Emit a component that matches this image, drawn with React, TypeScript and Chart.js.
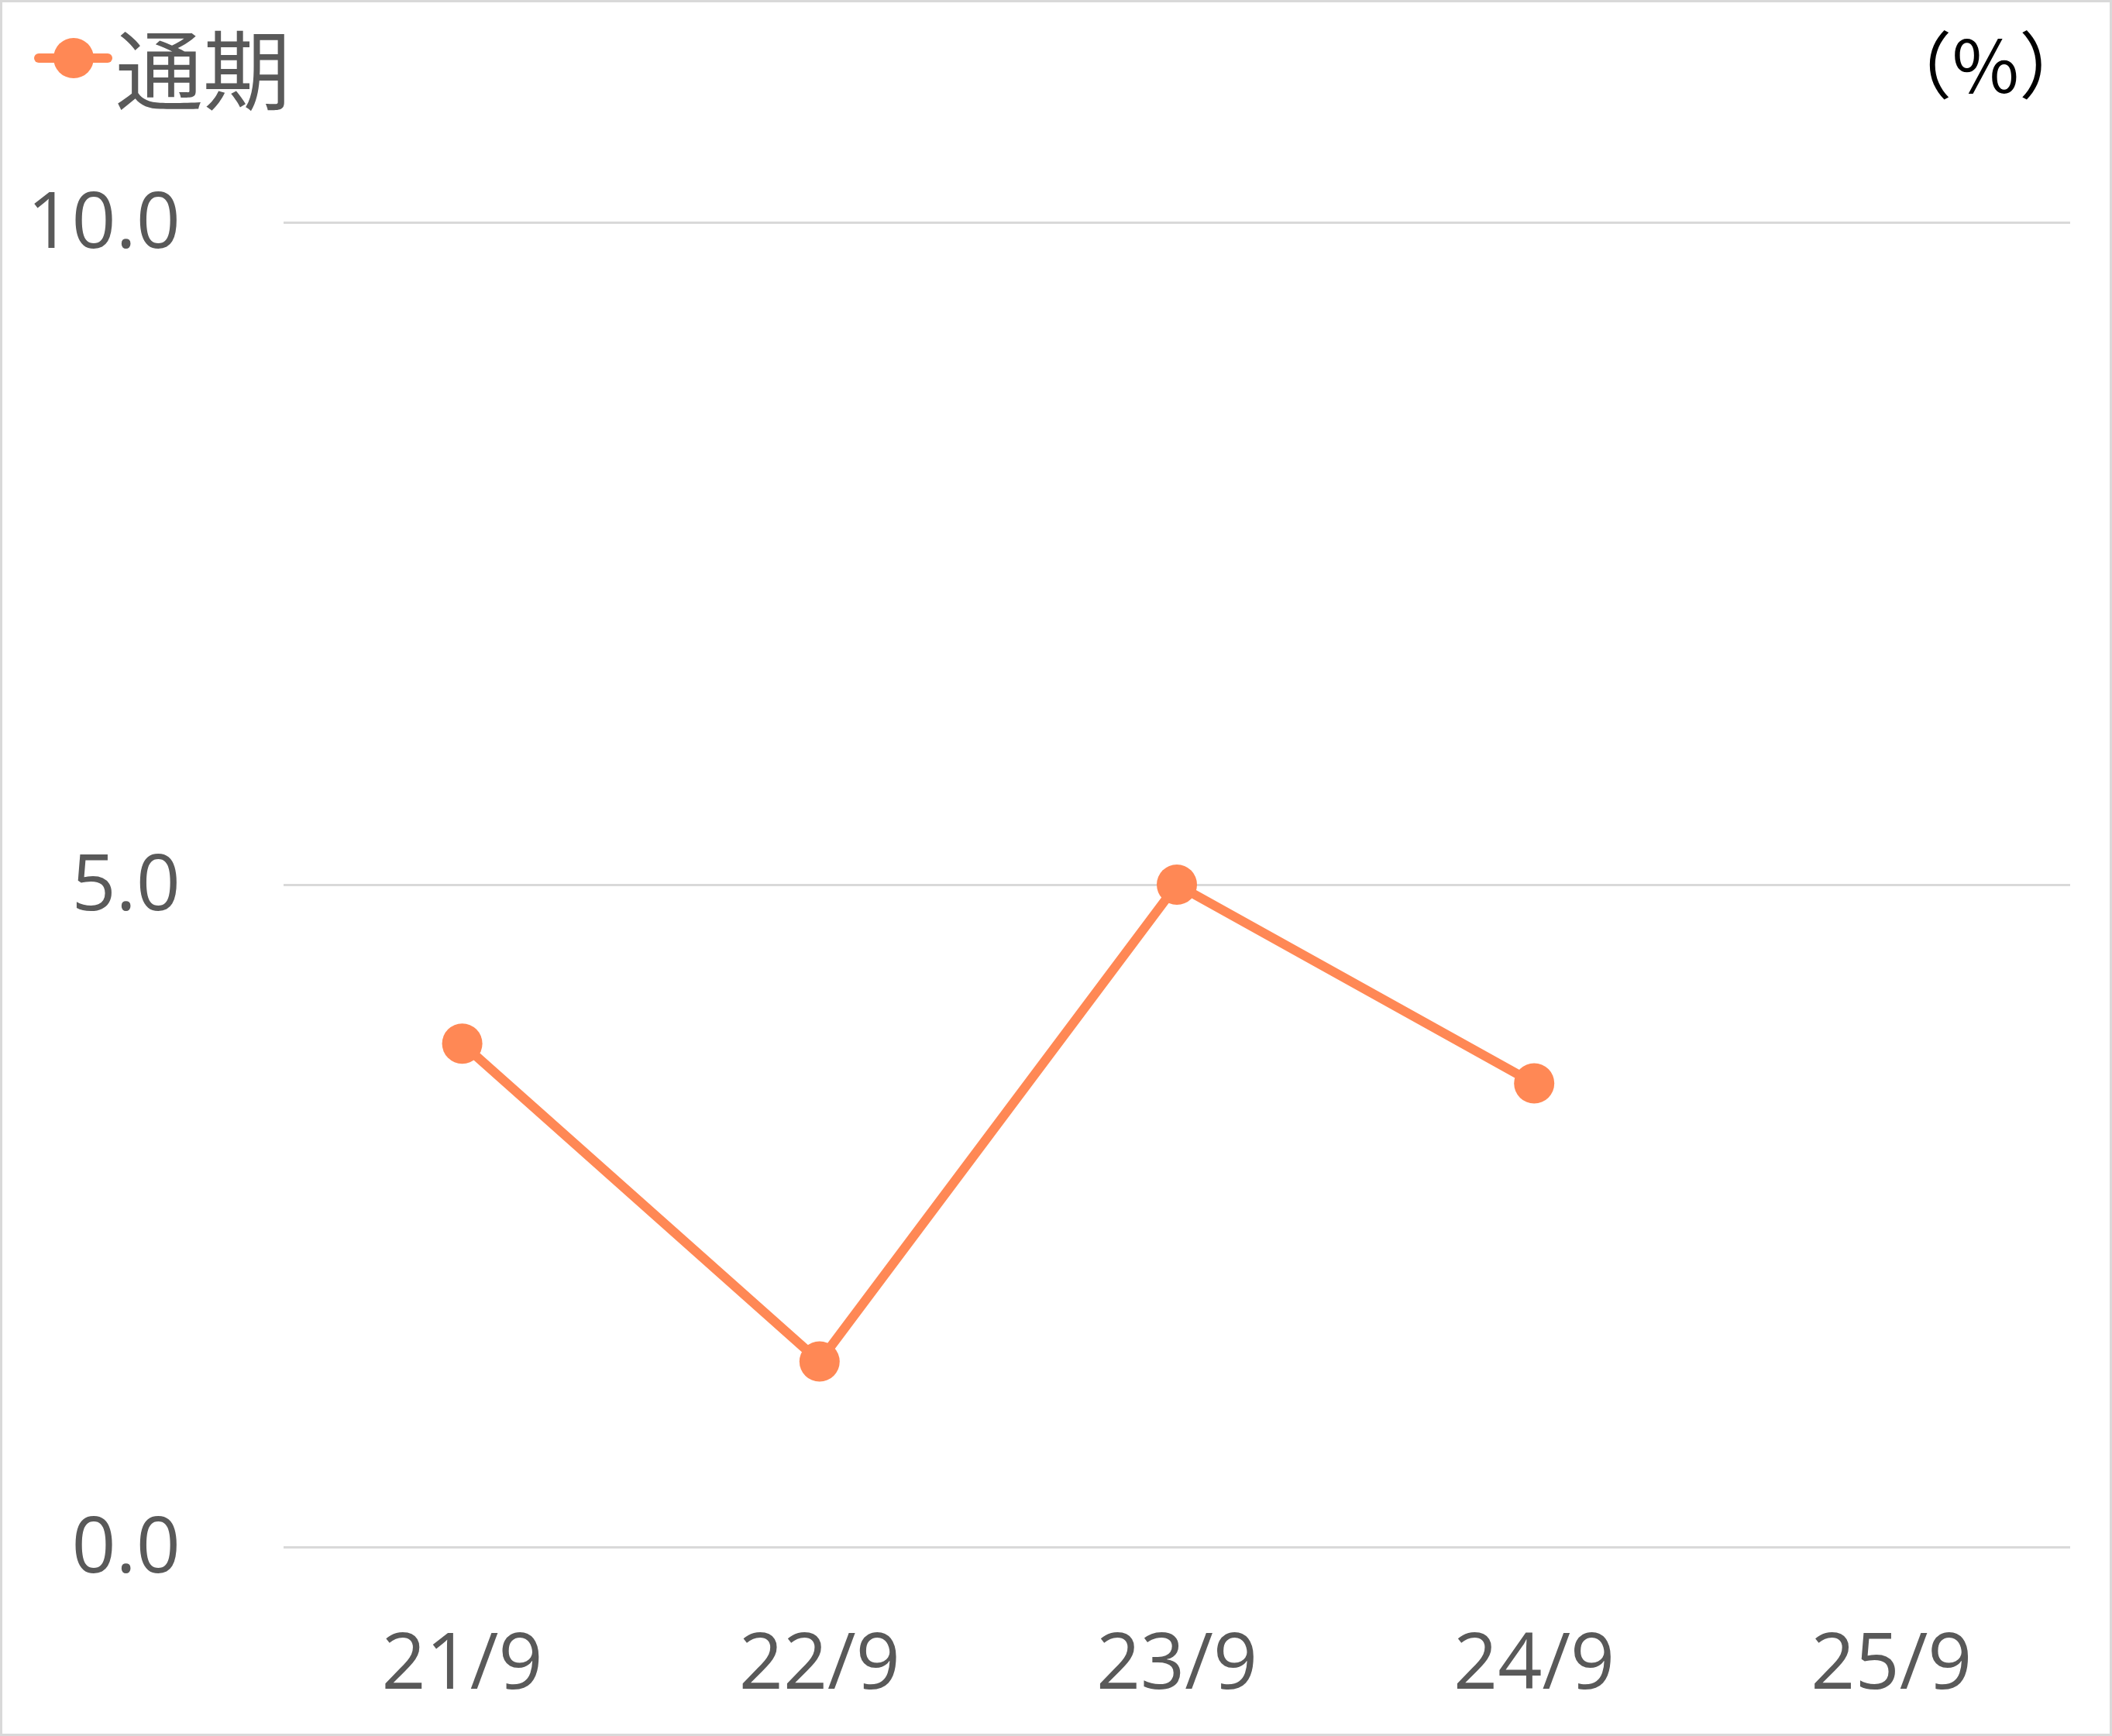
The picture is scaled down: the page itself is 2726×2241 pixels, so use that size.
import React, { useEffect, useRef } from "react";
import { Chart, registerables } from "chart.js";

Chart.register(...registerables);

const categories = ["21/9", "22/9", "23/9", "24/9", "25/9"];
const seriesName = "通期";
const seriesValues: (number | null)[] = [3.8, 1.4, 5.0, 3.5, null];
const yTickValues = [0, 5, 10];
const unitLabel = "（%）";

const W = 2726;
const H = 2241;
const LINE_COLOR = "#FF8855";
const TEXT_COLOR = "#595959";

export default function App() {
  const ref = useRef<HTMLCanvasElement>(null);

  useEffect(() => {
    document.body.style.margin = "0";
    const canvas = ref.current;
    if (!canvas) return;

    const legendPlugin = {
      id: "customLegend",
      afterDraw(chart: any) {
        const c = chart.ctx as CanvasRenderingContext2D;
        const ds = chart.data.datasets[0];
        c.save();
        c.strokeStyle = ds.borderColor;
        c.lineWidth = 12;
        c.lineCap = "round";
        c.beginPath();
        c.moveTo(50, 75);
        c.lineTo(139, 75);
        c.stroke();
        c.fillStyle = ds.borderColor;
        c.beginPath();
        c.arc(95, 75, 26, 0, Math.PI * 2);
        c.fill();
        c.font = '113px "Noto Sans CJK JP"';
        c.fillStyle = TEXT_COLOR;
        c.textBaseline = "middle";
        c.textAlign = "left";
        c.fillText(ds.label, 149, 90);
        c.fillStyle = "#000000";
        c.font = '94px "Noto Sans CJK JP"';
        c.textAlign = "right";
        c.fillText(unitLabel, 2700, 84);
        c.restore();
      },
    };

    const chart = new Chart(canvas, {
      type: "line",
      data: {
        labels: categories,
        datasets: [
          {
            label: seriesName,
            data: seriesValues,
            borderColor: LINE_COLOR,
            backgroundColor: LINE_COLOR,
            pointBackgroundColor: LINE_COLOR,
            pointBorderColor: LINE_COLOR,
            borderWidth: 12,
            pointRadius: 26,
            pointBorderWidth: 0,
            tension: 0,
            spanGaps: false,
          },
        ],
      },
      options: {
        animation: false,
        responsive: true,
        maintainAspectRatio: false,
        layout: { padding: { left: 0, right: 54, top: 287, bottom: 0 } },
        plugins: {
          legend: { display: false },
          tooltip: { enabled: false },
          title: { display: false },
        },
        scales: {
          x: {
            offset: true,
            grid: { display: false, drawTicks: false },
            border: { display: false },
            ticks: {
              color: TEXT_COLOR,
              font: { family: '"Open Sans"', size: 100 },
              padding: 95,
              maxRotation: 0,
            },
            afterFit(scale: any) {
              scale.height = 244;
            },
          },
          y: {
            min: 0,
            max: 10,
            grid: { color: "#d9d9d9", lineWidth: 3, drawTicks: false },
            border: { display: false },
            ticks: {
              color: TEXT_COLOR,
              font: { family: '"Open Sans"', size: 100 },
              padding: 133,
              labelOffset: 5,
              callback: (v: any) => Number(v).toFixed(1),
            },
            afterBuildTicks(scale: any) {
              scale.ticks = yTickValues.map((v) => ({ value: v }));
            },
            afterFit(scale: any) {
              scale.width = 366;
            },
          },
        },
      },
      plugins: [legendPlugin],
    });

    return () => chart.destroy();
  }, []);

  return (
    <div style={{ position: "absolute", left: 0, top: 0, width: W, height: H }}>
      <canvas ref={ref} />
      <div
        style={{
          position: "absolute",
          left: 0,
          top: 0,
          width: W,
          height: H,
          boxSizing: "border-box",
          border: "3px solid #d9d9d9",
          pointerEvents: "none",
        }}
      />
    </div>
  );
}
